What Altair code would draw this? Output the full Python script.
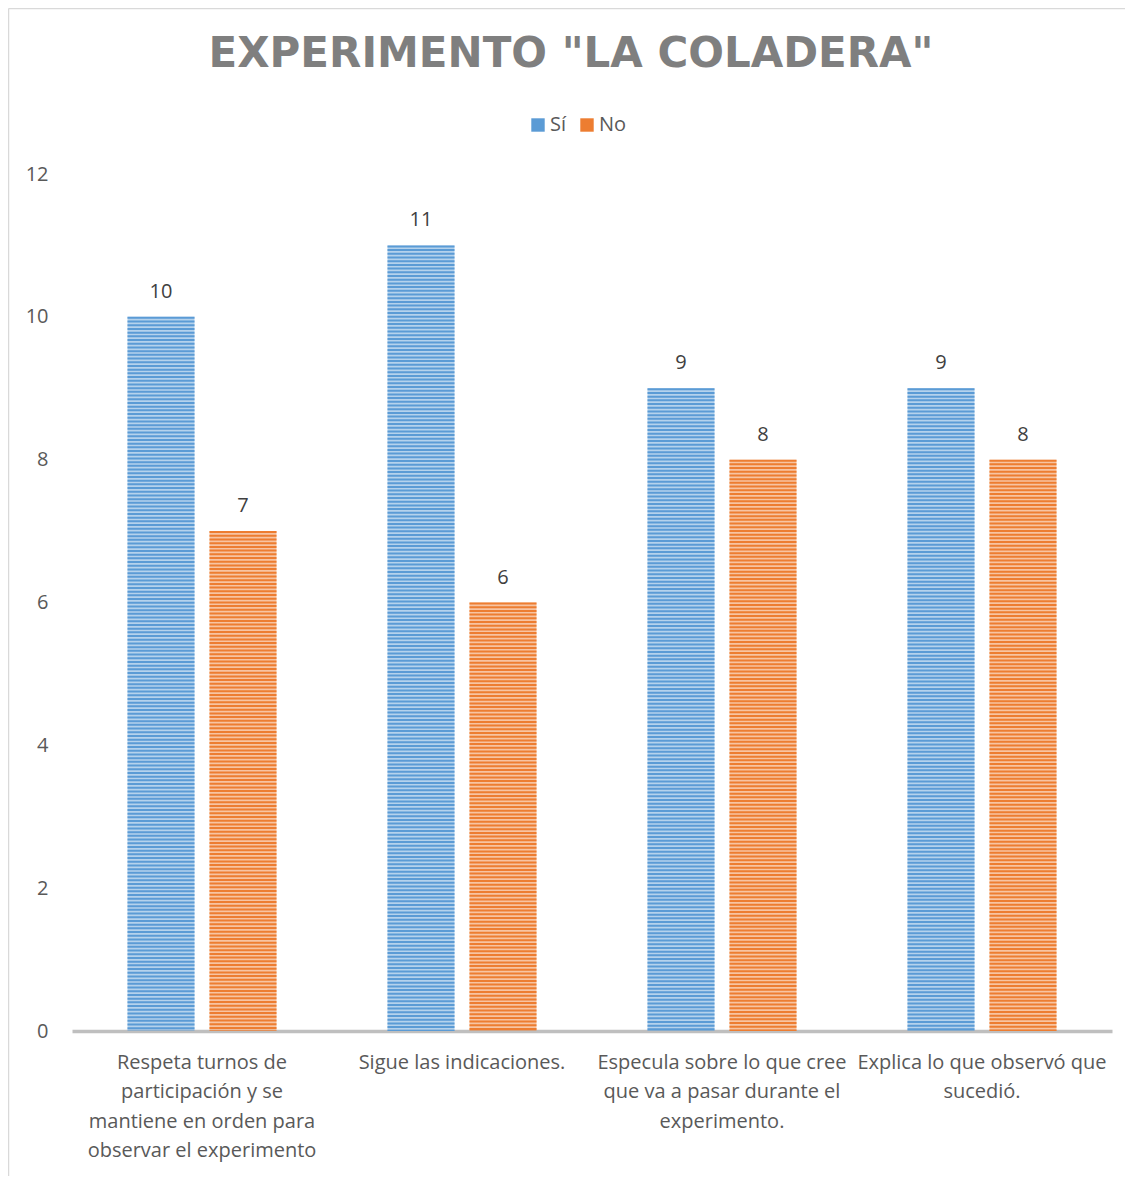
import altair as alt
import pandas as pd

title_text = 'EXPERIMENTO "LA COLADERA"'
categories = [
    "Respeta turnos de\nparticipación y se\nmantiene en orden para\nobservar el experimento",
    "Sigue las indicaciones.",
    "Especula sobre lo que cree\nque va a pasar durante el\nexperimento.",
    "Explica lo que observó que\nsucedió.",
]
series = ["Sí", "No"]
si_values = [10, 11, 9, 9]
no_values = [7, 6, 8, 8]
y_ticks = [0, 2, 4, 6, 8, 10, 12]

rows = []
for c, s, n in zip(categories, si_values, no_values):
    rows.append({"cat": c, "serie": "Sí", "valor": s})
    rows.append({"cat": c, "serie": "No", "valor": n})
df = pd.DataFrame(rows)
one = pd.DataFrame({"t": [title_text]})

FONT = "Open Sans"
FS = 20
dark = ["#5B9BD5", "#ED7D31"]
W, H = 1040, 857

x_enc = alt.X("cat:N", sort=categories, title=None,
              scale=alt.Scale(paddingInner=0.427, paddingOuter=0.2135),
              axis=alt.Axis(labelAngle=0, labelExpr="split(datum.label, '\\n')",
                            labelFontSize=FS, labelColor="#595959", labelFont=FONT,
                            labelLineHeight=29.5, labelBaseline="top", labelPadding=21,
                            ticks=False, domainColor="#BFBFBF", domainWidth=3.5,
                            labelLimit=320))
xoff = alt.XOffset("serie:N", sort=series,
                   scale=alt.Scale(paddingInner=0.183, paddingOuter=0))
y_enc = alt.Y("valor:Q", title=None,
              scale=alt.Scale(domain=[0, 12], nice=False),
              axis=alt.Axis(values=y_ticks, grid=False, ticks=False, domain=False,
                            labelFontSize=FS, labelColor="#595959", labelFont=FONT,
                            labelPadding=24))

base = alt.Chart(df)

bars = base.mark_bar(opacity=0.45).encode(
    x=x_enc, xOffset=xoff, y=y_enc,
    color=alt.Color("serie:N", sort=series,
                    scale=alt.Scale(domain=series, range=dark),
                    legend=alt.Legend(title=None, orient="none", direction="horizontal",
                                      legendX=456, legendY=-59,
                                      symbolType="square", symbolSize=180,
                                      symbolOpacity=1, symbolStrokeWidth=0,
                                      labelFontSize=FS, labelColor="#595959",
                                      labelFont=FONT, columnPadding=10,
                                      labelOffset=2)),
)

stripes = base.mark_rule(strokeWidth=67, strokeDash=[2, 1.7], strokeCap="butt").encode(
    x=x_enc, xOffset=xoff, y=y_enc, y2=alt.datum(0),
    color=alt.Color("serie:N", sort=series,
                    scale=alt.Scale(domain=series, range=dark),
                    legend=None),
)

labels = base.mark_text(fontSize=FS, color="#404040", font=FONT, baseline="middle",
                        dy=-25).encode(
    x=x_enc, xOffset=xoff, y=y_enc, text=alt.Text("valor:Q"),
)

title = alt.Chart(one).mark_text(fontSize=42, font="DejaVu Sans", fontWeight="bold",
                                 color="#7F7F7F", align="center",
                                 baseline="middle").encode(
    text="t:N", x=alt.value(499), y=alt.value(-120),
)

border_left = alt.Chart(one).mark_rule(color="#D9D9D9", strokeWidth=1.5).encode(
    x=alt.value(-63.5), y=alt.value(-165.5), y2=alt.value(1010),
)
border_top = alt.Chart(one).mark_rule(color="#D9D9D9", strokeWidth=1.5).encode(
    x=alt.value(-63.5), x2=alt.value(1070), y=alt.value(-165.5),
)

chart = alt.layer(border_left, border_top, title, bars, stripes, labels).properties(
    width=W, height=H,
    autosize=alt.AutoSizeParams(type="none"),
    padding={"left": 64, "top": 166, "right": 13, "bottom": 145},
).configure_view(stroke=None)

chart.save("out.html", embed_options={"renderer": "svg", "actions": False})
